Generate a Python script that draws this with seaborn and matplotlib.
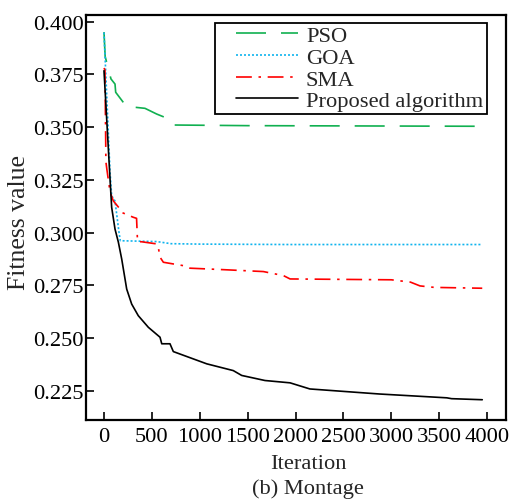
import numpy as np
import pandas as pd
import matplotlib
matplotlib.use("Agg")
import matplotlib.pyplot as plt
from matplotlib.patches import Rectangle
import seaborn as sns

# ---- data ----
pso_x = [0, 12, 50, 73, 115, 122, 202, 219, 428, 550, 637, 655, 724, 1500, 3950]
pso_y = [0.395, 0.3835, 0.3767, 0.3728, 0.3704, 0.3665, 0.3617, 0.3599, 0.3589,
         0.3562, 0.3546, 0.3523, 0.3510, 0.3507, 0.3504]

goa_x = [0, 63, 80, 115, 157, 170, 550, 700, 1000, 1940, 3950]
goa_y = [0.3948, 0.3287, 0.3175, 0.3150, 0.3000, 0.2962, 0.2958, 0.2948,
         0.2946, 0.2944, 0.2944]

sma_x = [0, 10, 20, 30, 63, 97, 167, 185, 306, 340, 350, 394, 550, 567, 585,
         620, 828, 898, 1246, 1664, 1873, 1943, 3000, 3200, 3300, 3450, 3950]
sma_y = [0.3780, 0.3770, 0.3335, 0.3300, 0.3193, 0.3151, 0.3112, 0.3096,
         0.3073, 0.3068, 0.2958, 0.2957, 0.2947, 0.2931, 0.2884, 0.2860,
         0.2844, 0.2832, 0.2825, 0.2816, 0.2797, 0.2781, 0.2777, 0.2766,
         0.2748, 0.2741, 0.2737]

prop_x = [0, 63, 80, 115, 150, 185, 237, 289, 358, 463, 585, 603, 689, 724,
          1073, 1350, 1438, 1681, 1943, 2150, 2880, 3580, 3630, 3950]
prop_y = [0.3767, 0.3254, 0.3120, 0.3017, 0.2955, 0.2875, 0.2733, 0.2662,
          0.2607, 0.2552, 0.2505, 0.2474, 0.2474, 0.2437, 0.2379, 0.2347,
          0.2324, 0.2300, 0.2289, 0.2260, 0.2236, 0.2218, 0.2214, 0.2209]

labels = ["PSO", "GOA", "SMA", "Proposed algorithm"]
x_ticks = [0, 500, 1000, 1500, 2000, 2500, 3000, 3500, 4000]
y_ticks = [0.225, 0.250, 0.275, 0.300, 0.325, 0.350, 0.375, 0.400]

# ---- style ----
sns.set_style("ticks")
plt.rcParams["font.family"] = ["Liberation Serif", "DejaVu Serif"]
FS = 16.2

fig = plt.figure(figsize=(5.18, 5.02), dpi=100)
AX_L, AX_R, AX_T, AX_B = 86, 506, 16, 421
ax = fig.add_axes([AX_L / 518, 1 - AX_B / 502, (AX_R - AX_L) / 518,
                   (AX_B - AX_T) / 502])

series = [
    (pso_x, pso_y, "#10B050", (0, (18, 9))),
    (goa_x, goa_y, "#10B4EE", (0, (1.2, 1.2))),
    (sma_x, sma_y, "#FF0000", (0, (9.5, 4, 1.5, 4))),
    (prop_x, prop_y, "#000000", "-"),
]
for (xs, ys, col, ls), lab in zip(series, labels):
    df = pd.DataFrame({"Iteration": xs, "Fitness": ys})
    sns.lineplot(data=df, x="Iteration", y="Fitness", ax=ax, color=col,
                 linestyle=ls, linewidth=1.2, label=lab, sort=False,
                 estimator=None)

ax.set_xlim(-188, 4198)
ax.set_ylim(0.2113, 0.4031)
ax.set_xticks(x_ticks)
ax.set_xticklabels([str(t) for t in x_ticks])
ax.set_yticks(y_ticks)
ax.set_yticklabels([f"{t:.3f}" for t in y_ticks])
ax.tick_params(direction="in", length=6, width=1.2, labelsize=FS,
               colors="black")
ax.tick_params(axis="y", pad=1.5)
ax.tick_params(axis="x", pad=5)
for sp in ax.spines.values():
    sp.set_visible(True)
    sp.set_linewidth(1.6)
    sp.set_color("black")

W, H = AX_R - AX_L, AX_B - AX_T
ax.set_xlabel("Iteration", fontsize=FS)
ax.xaxis.set_label_coords((308 - AX_L) / W, -0.085)
ax.set_ylabel("Fitness value", fontsize=18.5)
ax.yaxis.set_label_coords((30 - AX_L) / W, 0.49)

fig.text(308 / 518, 1 - 489 / 502, "(b) Montage", fontsize=FS,
         ha="center", va="center")

# legend frame (drawn as its own box, like the reference)
ax.add_patch(Rectangle(((215 - AX_L) / W, (AX_B - 115) / H),
                       (487 - 215) / W, (115 - 24) / H,
                       transform=ax.transAxes, facecolor="white",
                       edgecolor="black", linewidth=1.3, zorder=4))
leg = ax.legend(loc="upper left",
                bbox_to_anchor=((236 - AX_L) / W, (AX_B - 26.5) / H),
                borderaxespad=0, borderpad=0, fontsize=FS, frameon=False,
                handlelength=2.75, handletextpad=0.36, labelspacing=0.04)
leg.set_zorder(5)

fig.savefig("out.png", dpi=100)
